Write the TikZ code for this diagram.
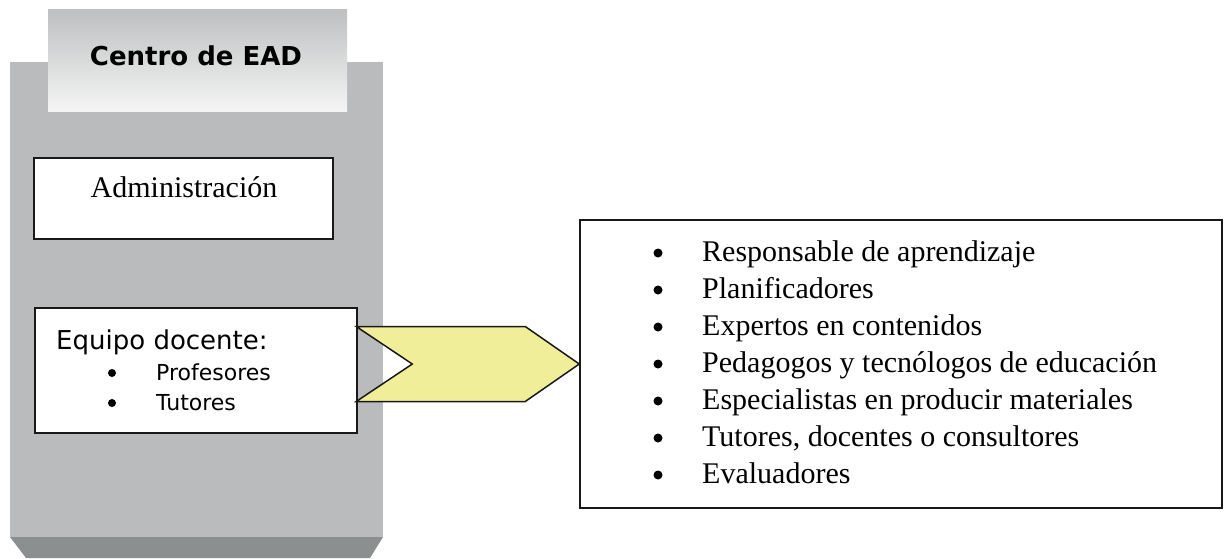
\documentclass[tikz,border=0pt]{standalone}
\usepackage{fontspec}
\setmainfont{Liberation Serif}
\newfontfamily\tahfont{DejaVu Sans}
\usetikzlibrary{positioning}
\usetikzlibrary{calc}
\definecolor{colgray}{HTML}{B9BBBC}
\definecolor{basegray}{HTML}{8C8F90}
\definecolor{headgray}{HTML}{BDBFC0}
\definecolor{chevyellow}{HTML}{F1EE9A}
\newcommand{\DOTX}{658}
\newcommand{\ITEMX}{702}
\newcommand{\ITEMY}{261}
\newcommand{\ITEMDY}{37}

\begin{document}
\begin{tikzpicture}[x=1pt,y=-1pt]
\tikzstyle{every node}=[inner sep=0pt]
\tikzstyle{box}=[draw=black!90, line width=1.5pt, fill=white]
\tikzstyle{serif}=[font=\fontsize{30}{36}\selectfont]
\tikzstyle{dot}=[circle, fill=black, minimum size=9pt]
\tikzstyle{chevron}=[draw=black!90, line width=1.5pt, fill=chevyellow, line join=miter]
\useasboundingbox (0,0) rectangle (1225,558);

% Column
	\fill[colgray] (10,62) rectangle (383,537);
	\fill[basegray] (10,537) -- (383,537) -- (370,558) -- (26,558) -- cycle;

% Header
	\node[top color=headgray, bottom color=white!96!black, minimum width=299pt, minimum height=102pt] (head) at (197.5,60) {};
	\node[anchor=base, font=\tahfont\bfseries\fontsize{26}{30}\selectfont] (headtext) at (196,65.5) {Centro de EAD};

% Administracion
	\node[box, minimum width=299pt, minimum height=81pt] (admin) at (183.5,198.5) {};
	\node[anchor=base, serif] (admintext) at (184,197) {Administración};

% Equipo docente
	\node[box, minimum width=322pt, minimum height=125pt] (team) at (196,370.5) {};
	\node[anchor=base west, font=\tahfont\fontsize{26}{30}\selectfont] (teamhead) at (56,349) {Equipo docente:};
	\node[dot, minimum size=8pt] (teamdota) at (112,373) {};
	\node[anchor=base west, font=\tahfont\fontsize{22}{26}\selectfont] (teamprof) at (156,380) {Profesores};
	\node[dot, minimum size=8pt] (teamdotb) at (112,403) {};
	\node[anchor=base west, font=\tahfont\fontsize{22}{26}\selectfont] (teamtut) at (156,410) {Tutores};

% List
	\node[box, minimum width=642pt, minimum height=288pt] (list) at (901,364) {};

% Chevron
	\draw[chevron] (list.west) -- ++(-54,37.5) -- ++(-169,0) -- ++(56,-37.5) -- ++(-56,-37.5) -- ++(169,0) -- cycle;

% Items
	\node[dot] (dota) at (\DOTX,{\ITEMY-8+0*\ITEMDY}) {};
	\node[anchor=base west, serif] (itema) at (\ITEMX,{\ITEMY+0*\ITEMDY}) {Responsable de aprendizaje};
	\node[dot] (dotb) at (\DOTX,{\ITEMY-8+1*\ITEMDY}) {};
	\node[anchor=base west, serif] (itemb) at (\ITEMX,{\ITEMY+1*\ITEMDY}) {Planificadores};
	\node[dot] (dotc) at (\DOTX,{\ITEMY-8+2*\ITEMDY}) {};
	\node[anchor=base west, serif] (itemc) at (\ITEMX,{\ITEMY+2*\ITEMDY}) {Expertos en contenidos};
	\node[dot] (dotd) at (\DOTX,{\ITEMY-8+3*\ITEMDY}) {};
	\node[anchor=base west, serif] (itemd) at (\ITEMX,{\ITEMY+3*\ITEMDY}) {Pedagogos y tecnólogos de educación};
	\node[dot] (dote) at (\DOTX,{\ITEMY-8+4*\ITEMDY}) {};
	\node[anchor=base west, serif] (iteme) at (\ITEMX,{\ITEMY+4*\ITEMDY}) {Especialistas en producir materiales};
	\node[dot] (dotf) at (\DOTX,{\ITEMY-8+5*\ITEMDY}) {};
	\node[anchor=base west, serif] (itemf) at (\ITEMX,{\ITEMY+5*\ITEMDY}) {Tutores, docentes o consultores};
	\node[dot] (dotg) at (\DOTX,{\ITEMY-8+6*\ITEMDY}) {};
	\node[anchor=base west, serif] (itemg) at (\ITEMX,{\ITEMY+6*\ITEMDY}) {Evaluadores};

\end{tikzpicture}
\end{document}
